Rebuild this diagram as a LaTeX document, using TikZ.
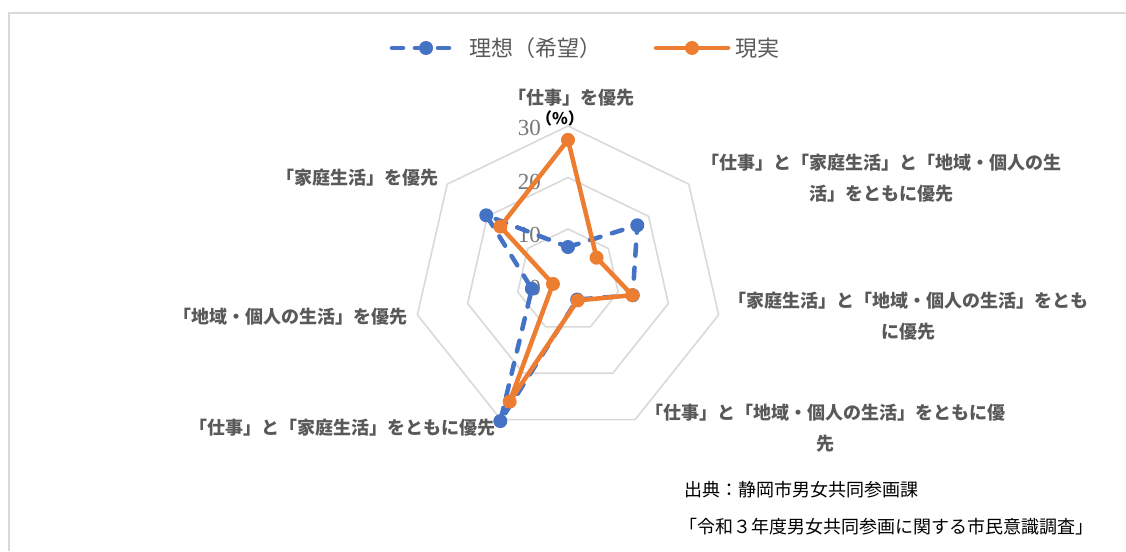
\documentclass[tikz,border=0pt]{standalone}
\usepackage{fontspec}
\setmainfont{Noto Sans CJK JP}
\newfontfamily\numfont{Liberation Serif}
\usetikzlibrary{positioning}

\definecolor{idealblue}{HTML}{4472C4}
\definecolor{realorange}{HTML}{ED7D31}
\definecolor{ringgray}{HTML}{D9D9D9}
\definecolor{labelgray}{HTML}{595959}
\definecolor{tickgray}{HTML}{767676}

\newcommand{\pct}{5.15} % pixels per percent

\begin{document}
\begin{tikzpicture}[
            x = 1pt, y = 1pt, % one unit per pixel
            ring/.style = {draw=ringgray, line width=1.6pt}, % grid heptagons
            ideal/.style = {draw=idealblue, line width=4.5pt, dash pattern=on 11pt off 12pt, line cap=round, line join=round},
            real/.style = {draw=realorange, line width=4.5pt, line cap=round, line join=round},
            idealdot/.style = {circle, fill=idealblue, inner sep=0pt, minimum size=14pt},
            realdot/.style = {circle, fill=realorange, inner sep=0pt, minimum size=14pt},
            axislabel/.style = {text=labelgray, font=\bfseries\fontsize{18}{31}\selectfont, inner sep=0pt, align=center},
            ticklabel/.style = {text=tickgray, font=\numfont\fontsize{23}{23}\selectfont, inner sep=0pt, anchor=east},
            legendtext/.style = {text=labelgray, font=\fontsize{22}{22}\selectfont, inner sep=0pt},
            source/.style = {text=black, font=\fontsize{18}{18}\selectfont, inner sep=0pt, anchor=west}
        ]

	\useasboundingbox (0,0) rectangle (1126,-551);
	\draw[ringgray, line width=2pt] (1126,-13) -- (9,-13) -- (9,-551);

	% legend
	\coordinate (legIa) at (392,-48);
	\coordinate (legIb) at (458,-48);
	\draw[ideal] (legIa) -- (legIb);
	\node[idealdot] (legIdot) at (426,-48) {};
	\node[legendtext, right=11pt of legIb] (legItext) {理想（希望）};
	\coordinate (legRa) at (656,-48);
	\coordinate (legRb) at (728,-48);
	\draw[real] (legRa) -- (legRb);
	\node[realdot] (legRdot) at (692,-48) {};
	\node[legendtext, right=7pt of legRb] (legRtext) {現実};

	\begin{scope}[shift={(568,-280.5)}]
	% grid
	\draw[ring] (90:{10*\pct}) -- (38.571:{10*\pct}) -- (-12.857:{10*\pct}) -- (-64.286:{10*\pct}) -- (-115.714:{10*\pct}) -- (-167.143:{10*\pct}) -- (141.429:{10*\pct}) -- cycle;
	\draw[ring] (90:{20*\pct}) -- (38.571:{20*\pct}) -- (-12.857:{20*\pct}) -- (-64.286:{20*\pct}) -- (-115.714:{20*\pct}) -- (-167.143:{20*\pct}) -- (141.429:{20*\pct}) -- cycle;
	\draw[ring] (90:{30*\pct}) -- (38.571:{30*\pct}) -- (-12.857:{30*\pct}) -- (-64.286:{30*\pct}) -- (-115.714:{30*\pct}) -- (-167.143:{30*\pct}) -- (141.429:{30*\pct}) -- cycle;

	% ideal
	\coordinate (i1) at (90:{6.5*\pct});
	\coordinate (i2) at (38.571:{17.2*\pct});
	\coordinate (i3) at (-12.857:{12.9*\pct});
	\coordinate (i4) at (-64.286:{4.1*\pct});
	\coordinate (i5) at (-115.714:{30.3*\pct});
	\coordinate (i6) at (-167.143:{7.2*\pct});
	\coordinate (i7) at (141.429:{20.3*\pct});

	% real
	\coordinate (r1) at (90:{27.3*\pct});
	\coordinate (r2) at (38.571:{7.1*\pct});
	\coordinate (r3) at (-12.857:{12.8*\pct});
	\coordinate (r4) at (-64.286:{4.3*\pct});
	\coordinate (r5) at (-115.714:{26.1*\pct});
	\coordinate (r6) at (-167.143:{3.0*\pct});
	\coordinate (r7) at (141.429:{16.8*\pct});
	\end{scope}

	% axis labels
	\node[axislabel] (ax1) at (571,-98) {「仕事」を優先};
	\node[axislabel] (ax2) at (881,-178) {「仕事」と「家庭生活」と「地域・個人の生\\活」をともに優先};
	\node[axislabel] (ax3) at (908,-316) {「家庭生活」と「地域・個人の生活」をとも\\に優先};
	\node[axislabel] (ax4) at (825,-428) {「仕事」と「地域・個人の生活」をともに優\\先};
	\node[axislabel, anchor=east] (ax5) at (496,-428) {「仕事」と「家庭生活」をともに優先};
	\node[axislabel, anchor=east] (ax6) at (408,-317) {「地域・個人の生活」を優先};
	\node[axislabel, anchor=east] (ax7) at (439,-178) {「家庭生活」を優先};

	% scale
	\node[ticklabel] (t30) at (541,-128) {30};
	\node[ticklabel] (t20) at (541,-182) {20};
	\node[ticklabel] (t10) at (541,-235) {10};
	\node[ticklabel] (t0) at (541,-288) {0};
	\node[inner sep=0pt, font=\bfseries\fontsize{16}{16}\selectfont] (unit) at (560,-118) {（\%）};

	% series
	\draw[ideal] (i1) -- (i2) -- (i3) -- (i4) -- (i5) -- (i6) -- (i7) -- cycle;
	\node[idealdot] (i1dot) at (i1) {};
	\node[idealdot] (i2dot) at (i2) {};
	\node[idealdot] (i3dot) at (i3) {};
	\node[idealdot] (i4dot) at (i4) {};
	\node[idealdot] (i5dot) at (i5) {};
	\node[idealdot] (i6dot) at (i6) {};
	\node[idealdot] (i7dot) at (i7) {};

	\draw[real] (r1) -- (r2) -- (r3) -- (r4) -- (r5) -- (r6) -- (r7) -- cycle;
	\node[realdot] (r1dot) at (r1) {};
	\node[realdot] (r2dot) at (r2) {};
	\node[realdot] (r3dot) at (r3) {};
	\node[realdot] (r4dot) at (r4) {};
	\node[realdot] (r5dot) at (r5) {};
	\node[realdot] (r6dot) at (r6) {};
	\node[realdot] (r7dot) at (r7) {};

	% source
	\node[source] (src1) at (684,-490) {出典：静岡市男女共同参画課};
	\node[source] (src2) at (679,-527) {「令和３年度男女共同参画に関する市民意識調査」};

\end{tikzpicture}
\end{document}
